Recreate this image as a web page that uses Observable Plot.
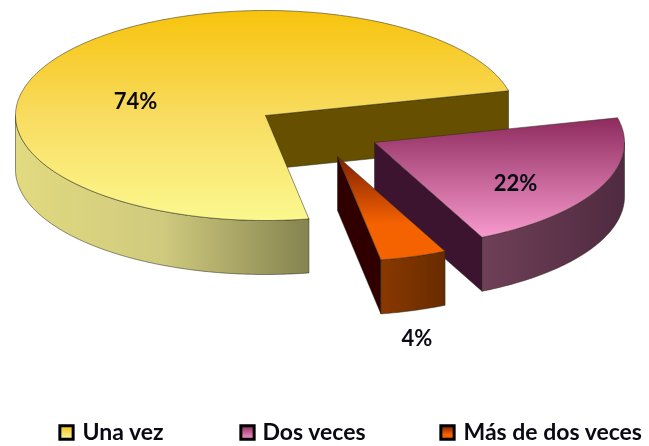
<!DOCTYPE html>
<html>
<head>
<meta charset="utf-8">
<script src="https://cdn.jsdelivr.net/npm/d3@7"></script>
<script src="https://cdn.jsdelivr.net/npm/@observablehq/plot@0.6"></script>
<style>
html,body{margin:0;padding:0;background:#fff;}
svg{display:block;filter:blur(0.35px);}
</style>
</head>
<body>
<div id="chart"></div>
<script>
const categories = ["Una vez", "Dos veces", "Más de dos veces"];
const values = [74, 21.7, 4.3];

// Layout of the exploded pie, in picture units
const startAngle = 80, radiusX = 250, radiusY = 105, depth = 54;
const centers = [[265, 115], [374, 142], [337, 156]];
const labelSpots = [[135, 101], [515, 183], [416.5, 338]];
const swatchX = [66, 247, 447];
const legendTextX = [82, 262, 463];
const legendY = 432;

// Styles
const topStops = [
  [["0%", "#f7c30c"], ["50%", "#f8dc60"], ["100%", "#fbf88f"]],
  [["0%", "#8e2b5e"], ["100%", "#f89ace"]],
  [["0%", "#7f2000"], ["65%", "#f56200"], ["100%", "#f56200"]]
];
const rimStops = [
  [["0%", "#e2da80"], ["50%", "#cfca7e"], ["100%", "#85834f"]],
  [["0%", "#6f4058"], ["100%", "#4f2a40"]],
  [["0%", "#8a3800"], ["100%", "#682c00"]]
];
const cutColors = ["#665000", "#3c1430", "#300000"];

const toRad = d => d * Math.PI / 180;
let cursor = startAngle;
const slices = values.map((v, i) => {
  const a0 = cursor, a1 = cursor + v * 3.6;
  cursor = a1;
  return {i, v, a0, a1, cx: centers[i][0], cy: centers[i][1]};
});
const rimPoint = (s, a, dy = 0) => ({x: s.cx + radiusX * Math.cos(toRad(a)), y: s.cy + radiusY * Math.sin(toRad(a)) + dy});
const arc = (s, a0, a1, dy = 0) => {
  const n = Math.max(2, Math.ceil(Math.abs(a1 - a0)));
  return d3.range(n + 1).map(k => rimPoint(s, a0 + (a1 - a0) * k / n, dy));
};
const closed = pts => [...pts, pts[0]];
const topFace = s => closed([{x: s.cx, y: s.cy}, ...arc(s, s.a0, s.a1)]);
// outer wall: only the front half of the ellipse can be seen
const rimFace = s => {
  const spans = [[s.a0, s.a1], [s.a0 - 360, s.a1 - 360]];
  let lo = 0, hi = 0;
  for (const [a, b] of spans) {
    const l = Math.max(a, 0), h = Math.min(b, 180);
    if (h > l) { lo = l; hi = h; }
  }
  return closed([...arc(s, lo, hi), ...arc(s, hi, lo, depth)]);
};
// the cut face at the end of each slice is the one turned to the viewer
const cutFace = s => {
  const p = rimPoint(s, s.a1);
  return closed([{x: s.cx, y: s.cy}, p, {x: p.x, y: p.y + depth}, {x: s.cx, y: s.cy + depth}]);
};

const gradients = () => {
  const defs = d3.create("svg:defs");
  const add = (id, stops, horizontal) => {
    const g = defs.append("linearGradient").attr("id", id)
      .attr("x1", 0).attr("y1", 0).attr("x2", horizontal ? 1 : 0).attr("y2", horizontal ? 0 : 1);
    stops.forEach(([o, c]) => g.append("stop").attr("offset", o).attr("stop-color", c));
  };
  topStops.forEach((st, i) => add("top" + i, st, false));
  rimStops.forEach((st, i) => add("rim" + i, st, true));
  return defs.node();
};

const edge = {stroke: "#2a2a1a", strokeWidth: 0.7, strokeOpacity: 0.75, curve: "linear"};
const face = (pts, fill) => Plot.line(pts, {x: "x", y: "y", fill, ...edge});

const marks = [gradients];
slices.forEach(s => {
  marks.push(face(cutFace(s), cutColors[s.i]));
  marks.push(face(rimFace(s), `url(#rim${s.i})`));
  marks.push(face(topFace(s), `url(#top${s.i})`));
});

const font = {fontFamily: "Lato", fontWeight: 700, fill: "#0a0a14"};
marks.push(Plot.text(slices, {
  x: d => labelSpots[d.i][0], y: d => labelSpots[d.i][1],
  text: d => `${Math.round(d.v)}%`, fontSize: 22, ...font
}));
marks.push(Plot.dot(categories, {
  x: (d, i) => swatchX[i], y: () => legendY, symbol: "square", r: 7.5,
  fill: (d, i) => `url(#top${i})`, stroke: "#000", strokeWidth: 3
}));
marks.push(Plot.text(categories, {
  x: (d, i) => legendTextX[i], y: () => legendY, text: d => d,
  textAnchor: "start", fontSize: 23, ...font
}));

const chart = Plot.plot({
  width: 649, height: 446, margin: 0,
  style: {background: "#fff", overflow: "hidden"},
  x: {domain: [0, 649], range: [0, 649], axis: null},
  y: {domain: [0, 446], range: [0, 446], axis: null},
  color: {type: "identity"},
  marks
});
document.getElementById("chart").appendChild(chart);
</script>
</body>
</html>
